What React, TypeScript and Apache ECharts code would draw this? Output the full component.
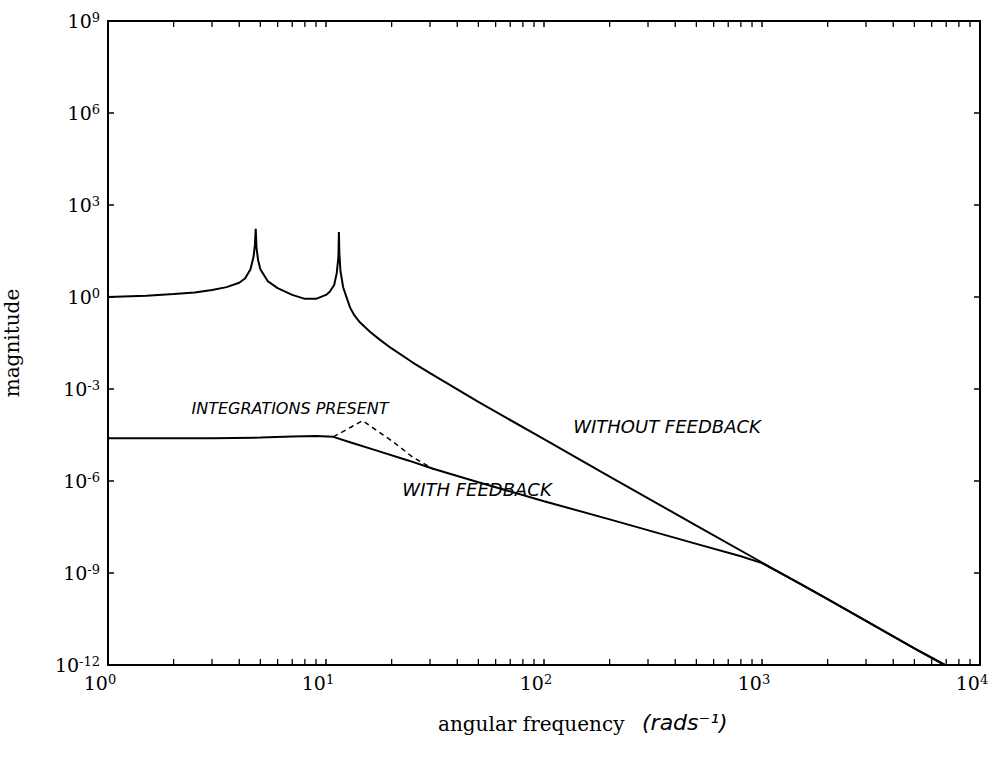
import React, { useEffect, useRef } from "react";
import * as echarts from "echarts";

// angular frequency (rad/s) and magnitude — open loop ("without feedback")
const openFreq = [1, 1.5, 2, 2.5, 3, 3.5, 4, 4.25, 4.5, 4.65, 4.72, 4.76, 4.8, 4.88, 5.0, 5.4, 6, 7, 8, 9, 10, 10.4, 10.9, 11.2, 11.4, 11.46, 11.52, 11.65, 12, 12.9, 13.5, 14.3, 16, 17.7, 20, 25, 30, 50, 100, 200, 500, 1000, 2000, 5000, 6900];
const openMag = [1, 1.1, 1.26, 1.41, 1.7, 2.1, 2.9, 4.0, 7.9, 20, 50, 166, 40, 16, 8, 3.3, 1.95, 1.17, 0.87, 0.87, 1.17, 1.48, 2.45, 6, 20, 132, 25, 7, 2.0, 0.45, 0.25, 0.15, 0.071, 0.04, 0.021, 0.0073, 0.0033, 3.8e-4, 2.3e-5, 1.4e-6, 3.5e-8, 2.2e-9, 1.4e-10, 3.5e-12, 1e-12];

// closed loop ("with feedback")
const closedFreq = [1, 2, 3, 5, 7, 9, 10.8, 13, 17.7, 24, 31, 50, 100, 200, 500, 800, 1000, 1500, 2000, 5000, 6900];
const closedMag = [2.5e-5, 2.5e-5, 2.5e-5, 2.6e-5, 2.8e-5, 2.95e-5, 2.75e-5, 1.8e-5, 9.1e-6, 4.6e-6, 2.5e-6, 9.1e-7, 2.2e-7, 5.6e-8, 8.9e-9, 3.5e-9, 2.1e-9, 4.4e-10, 1.4e-10, 3.5e-12, 1e-12];

// dashed ("integrations present")
const integFreq = [10.8, 12.6, 14.7, 17.3, 20.3, 25, 31];
const integMag = [2.75e-5, 5e-5, 9.3e-5, 4.2e-5, 1.9e-5, 6e-6, 2.5e-6];

// minor tick positions on the frequency axis
const minorTicks = [2, 3, 4, 5, 6, 7, 8, 9, 20, 30, 40, 50, 60, 70, 80, 90, 200, 300, 400, 500, 600, 700, 800, 900, 2000, 3000, 4000, 5000, 6000, 7000, 8000, 9000];

const yMin = 1e-12;
const yMax = 1e9;

const pairs = (xs: number[], ys: number[]) => xs.map((x, i) => [x, ys[i]]);

const serif = '"DejaVu Serif", serif';
const hand = '"DejaVu Sans", sans-serif';

const labelRich = {
  b: { fontFamily: serif, fontSize: 19, color: "#000" },
  s: { fontFamily: serif, fontSize: 13, color: "#000", padding: [0, 0, 7, 0] },
  p: { width: 16, fontSize: 10 },
};

const expFmt = (withPad: boolean) => (v: number) => {
  const e = Math.round(Math.log10(v));
  return `{b|10}{s|${e}}` + (withPad ? "{p| }" : "");
};

export default function App() {
  const ref = useRef<HTMLDivElement>(null);
  useEffect(() => {
    const chart = echarts.init(ref.current!, undefined, { renderer: "svg" });
    const axisLine = { show: true, lineStyle: { color: "#000", width: 2 } };
    const tick = { show: true, inside: true, length: 6, lineStyle: { color: "#000", width: 1.5 } };
    const xBase = {
      type: "log",
      logBase: 10,
      min: 1,
      max: 10000,
      interval: 1,
      axisLine,
      axisTick: tick,
      splitLine: { show: false },
    };
    const yBase = {
      type: "log",
      logBase: 10,
      min: yMin,
      max: yMax,
      interval: 3,
      axisLine,
      axisTick: tick,
      splitLine: { show: false },
    };
    chart.setOption({
      animation: false,
      backgroundColor: "#fff",
      grid: { left: 108, right: 23, top: 21, bottom: 92, containLabel: false, outerBoundsMode: "none" },
      xAxis: [
        {
          ...xBase,
          position: "bottom",
          axisLabel: { formatter: expFmt(true), rich: labelRich, margin: 8 },
        },
        { ...xBase, position: "top", axisLabel: { show: false } },
      ],
      yAxis: [
        {
          ...yBase,
          position: "left",
          name: "magnitude",
          nameLocation: "middle",
          nameGap: 86,
          nameTextStyle: { fontFamily: serif, fontSize: 20, color: "#000" },
          axisLabel: { formatter: expFmt(false), rich: labelRich, margin: 8 },
        },
        { ...yBase, position: "right", axisLabel: { show: false } },
      ],
      series: [
        {
          type: "custom",
          silent: true,
          clip: false,
          data: minorTicks.map((v) => [v, yMin]),
          renderItem: (params: any, api: any) => {
            const x = api.value(0);
            const pb = api.coord([x, yMin]);
            const pt = api.coord([x, yMax]);
            const st = { stroke: "#000", lineWidth: 1.3 };
            return {
              type: "group",
              children: [
                { type: "line", shape: { x1: pb[0], y1: pb[1], x2: pb[0], y2: pb[1] - 6 }, style: st },
                { type: "line", shape: { x1: pt[0], y1: pt[1], x2: pt[0], y2: pt[1] + 6 }, style: st },
              ],
            };
          },
        },
        {
          type: "line",
          data: pairs(openFreq, openMag),
          showSymbol: false,
          lineStyle: { color: "#000", width: 2 },
          clip: true,
        },
        {
          type: "line",
          data: pairs(closedFreq, closedMag),
          showSymbol: false,
          lineStyle: { color: "#000", width: 2 },
          clip: true,
        },
        {
          type: "line",
          data: pairs(integFreq, integMag),
          showSymbol: false,
          lineStyle: { color: "#000", width: 1.5, type: [5, 4] },
          clip: true,
        },
      ],
      graphic: [
        {
          type: "text",
          x: 290,
          y: 408,
          style: { text: "INTEGRATIONS PRESENT", font: `italic 16px ${hand}`, fill: "#000", align: "center", verticalAlign: "middle" },
        },
        {
          type: "text",
          x: 667,
          y: 426,
          style: { text: "WITHOUT FEEDBACK", font: `italic 18px ${hand}`, fill: "#000", align: "center", verticalAlign: "middle" },
        },
        {
          type: "text",
          x: 477,
          y: 489,
          style: { text: "WITH FEEDBACK", font: `italic 18px ${hand}`, fill: "#000", align: "center", verticalAlign: "middle" },
        },
        {
          type: "text",
          x: 438,
          y: 724,
          style: { text: "angular frequency", font: `20px ${serif}`, fill: "#000", align: "left", verticalAlign: "middle" },
        },
        {
          type: "text",
          x: 642,
          y: 722,
          style: { text: "(rads⁻¹)", font: `italic 22px ${hand}`, fill: "#000", align: "left", verticalAlign: "middle" },
        },
      ],
    });
    return () => chart.dispose();
  }, []);
  return (
    <div
      ref={ref}
      style={{ position: "fixed", left: 0, top: 0, width: 1003, height: 757, background: "#fff" }}
    />
  );
}
